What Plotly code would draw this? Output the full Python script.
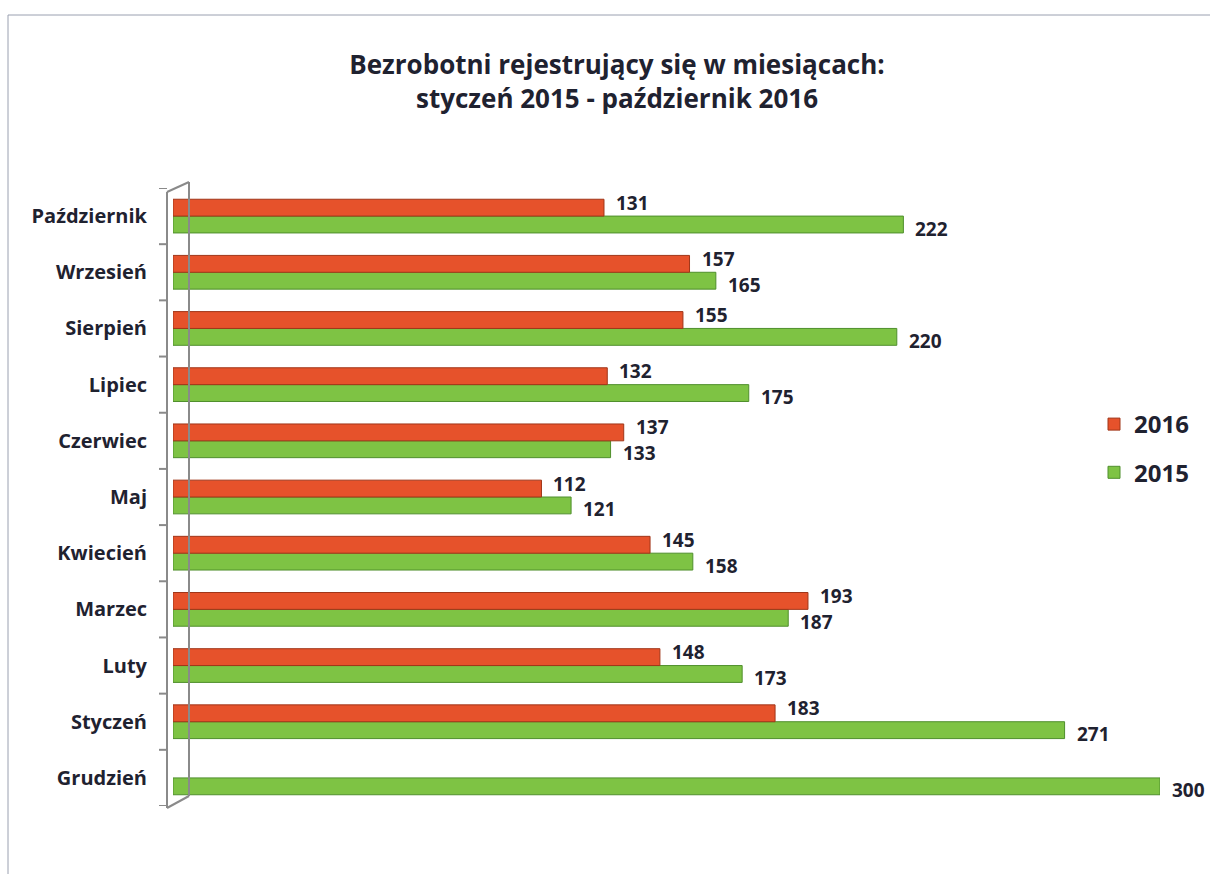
import plotly.graph_objects as go

months = ["Grudzień", "Styczeń", "Luty", "Marzec", "Kwiecień", "Maj",
          "Czerwiec", "Lipiec", "Sierpień", "Wrzesień", "Październik"]
v2015 = [300, 271, 173, 187, 158, 121, 133, 175, 220, 165, 222]
v2016 = [None, 183, 148, 193, 145, 112, 137, 132, 155, 157, 131]

FONT = "Open Sans"
TXT = "#1f2230"
RED = "#E6522B"
GREEN = "#7EC344"

W, H = 1210, 874
L, R, T, B = 173, 50, 188, 68
PW, PH = W - L - R, H - T - B
BARGAP = 0.4


def px(x):  # screen pixel -> paper x
    return (x - L) / PW


def py(y):  # screen pixel -> paper y
    return (H - B - y) / PH


fig = go.Figure()
fig.add_trace(go.Bar(
    y=months, x=v2015, name="2015", orientation="h",
    legendgroup="g2015", legendrank=2,
    marker=dict(color=GREEN, line=dict(color="#4F8F2C", width=1)),
))
fig.add_trace(go.Bar(
    y=months, x=v2016, name="2016", orientation="h",
    legendgroup="g2016", legendrank=1,
    marker=dict(color=RED, line=dict(color="#A03619", width=1)),
))

# value labels (positions derived from the data and the group layout)
half = (1 - BARGAP) / 4
for i, (a, b) in enumerate(zip(v2015, v2016)):
    fig.add_annotation(x=a, y=i - half, xref="x", yref="y", text=f"<b>{a}</b>",
                       showarrow=False, xanchor="left", xshift=10, yshift=-4,
                       font=dict(family=FONT, size=19, color=TXT))
    if b is not None:
        fig.add_annotation(x=b, y=i + half, xref="x", yref="y", text=f"<b>{b}</b>",
                           showarrow=False, xanchor="left", xshift=10, yshift=5,
                           font=dict(family=FONT, size=19, color=TXT))

fig.update_layout(
    width=W, height=H,
    paper_bgcolor="white", plot_bgcolor="white",
    margin=dict(l=L, r=R, t=T, b=B, autoexpand=False),
    barmode="group", bargap=BARGAP, bargroupgap=0.0,
    showlegend=True,
    title=dict(
        text="Bezrobotni rejestrujący się w miesiącach:<br>styczeń 2015 - październik 2016",
        x=617 / W, xanchor="center", y=1 - 74 / H, yanchor="top",
        font=dict(family=FONT, size=26, color=TXT, weight="bold"),
    ),
    legend=dict(
        traceorder="grouped", x=px(1094), y=py(402),
        xanchor="left", yanchor="top",
        font=dict(family=FONT, size=24, color=TXT, weight="bold"),
        itemwidth=30, tracegroupgap=14, bgcolor="rgba(0,0,0,0)",
    ),
    xaxis=dict(range=[0, 300], visible=False, fixedrange=True),
    yaxis=dict(
        categoryorder="array", categoryarray=months, range=[-0.5, 10.5],
        showline=False, ticks="", ticklabelstandoff=25, fixedrange=True,
        tickfont=dict(family=FONT, size=20, color=TXT, weight="bold"),
        showgrid=False,
    ),
)

WALL = dict(color="#8a8a8a", width=2)
# pseudo-3D wall on the left
fig.add_shape(type="line", xref="paper", yref="paper", x0=px(167), x1=px(167),
              y0=py(192), y1=py(808), line=WALL)
fig.add_shape(type="line", xref="paper", yref="paper", x0=px(189), x1=px(189),
              y0=py(182), y1=py(796), line=WALL)
fig.add_shape(type="line", xref="paper", yref="paper", x0=px(167), x1=px(189),
              y0=py(192), y1=py(182), line=WALL)
fig.add_shape(type="line", xref="paper", yref="paper", x0=px(167), x1=px(189),
              y0=py(808), y1=py(796), line=WALL)
for k in range(len(months) + 1):
    fig.add_shape(type="line", xref="paper", yref="y", x0=px(159), x1=px(167),
                  y0=k - 0.5, y1=k - 0.5, line=WALL)

# thin page frame as in the scan (left and top edges)
fig.add_shape(type="line", xref="paper", yref="paper",
              x0=px(8), x1=px(1210), y0=py(15), y1=py(15),
              line=dict(color="#9aa0b0", width=1))
fig.add_shape(type="line", xref="paper", yref="paper",
              x0=px(8), x1=px(8), y0=py(15), y1=py(874),
              line=dict(color="#9aa0b0", width=1))

fig.write_html("out.html",
               config={"displayModeBar": False},
               post_script="document.body.style.margin='0';"
                           "document.body.style.overflow='hidden';")
